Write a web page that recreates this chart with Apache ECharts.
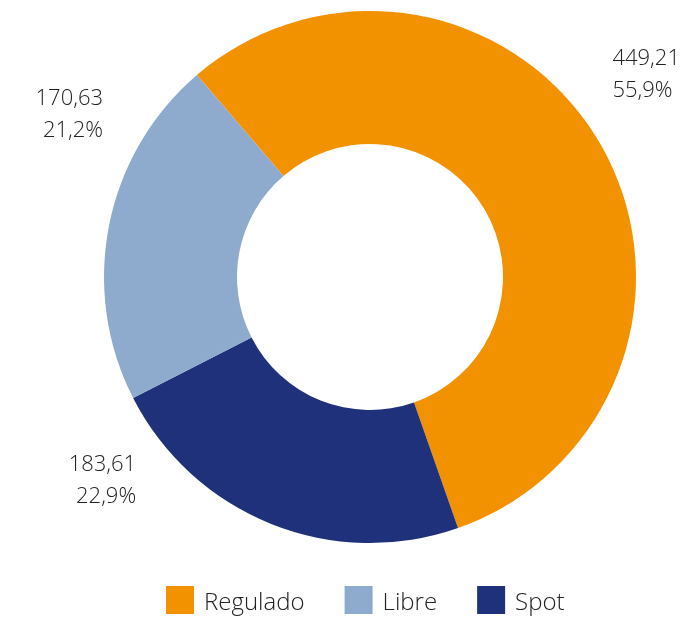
<!DOCTYPE html>
<html>
<head>
<meta charset="utf-8">
<script src="https://cdn.jsdelivr.net/npm/echarts@6/dist/echarts.min.js"></script>
<style>
  html, body { margin: 0; padding: 0; background: #fff; }
  #main { width: 683px; height: 621px; }
</style>
</head>
<body>
<div id="main"></div>
<script>
// datos del gráfico
var categories = ['Regulado', 'Libre', 'Spot'];
var values = [449.21, 170.63, 183.61];
var valueLabels = ['449,21', '170,63', '183,61'];
var pctLabels = ['55,9%', '21,2%', '22,9%'];
var colors = ['#F39200', '#8EABCE', '#1F317A'];

// desplazamiento de etiquetas (estilo, no datos)
var labelShift = [[7, -69], [-1, -111], [-130, -43]];

var order = [0, 2, 1]; // sentido horario desde Regulado

var chart = echarts.init(document.getElementById('main'));

chart.setOption({
    animation: false,
    color: colors,
    legend: {
        data: categories,
        left: 166,
        top: 586,
        padding: 0,
        itemWidth: 28,
        itemHeight: 28,
        itemGap: 40,
        icon: 'rect',
        formatter: '{t|{name}}',
        textStyle: {
            rich: {
                t: {
                    fontFamily: 'Open Sans',
                    fontWeight: 300,
                    fontSize: 24,
                    color: '#222',
                    padding: [7, 0, 0, 5]
                }
            }
        }
    },
    series: [{
        type: 'pie',
        center: [370, 277],
        radius: [133, 266],
        startAngle: 130.6,
        clockwise: true,
        avoidLabelOverlap: false,
        label: {
            show: true,
            position: 'outside',
            fontFamily: 'Open Sans',
            fontWeight: 300,
            fontSize: 22,
            lineHeight: 32,
            color: '#222',
            formatter: function (p) {
                return valueLabels[p.data.idx] + '\n' + pctLabels[p.data.idx];
            }
        },
        labelLine: { show: false, length: 0, length2: 0 },
        labelLayout: function (p) {
            var s = labelShift[p.dataIndex === 0 ? 0 : (p.dataIndex === 1 ? 2 : 1)];
            return { dx: s[0], dy: s[1] };
        },
        itemStyle: { borderWidth: 0 },
        emphasis: { disabled: true },
        data: order.map(function (i) {
            return {
                name: categories[i],
                value: values[i],
                idx: i,
                itemStyle: { color: colors[i] }
            };
        })
    }]
});
</script>
</body>
</html>
